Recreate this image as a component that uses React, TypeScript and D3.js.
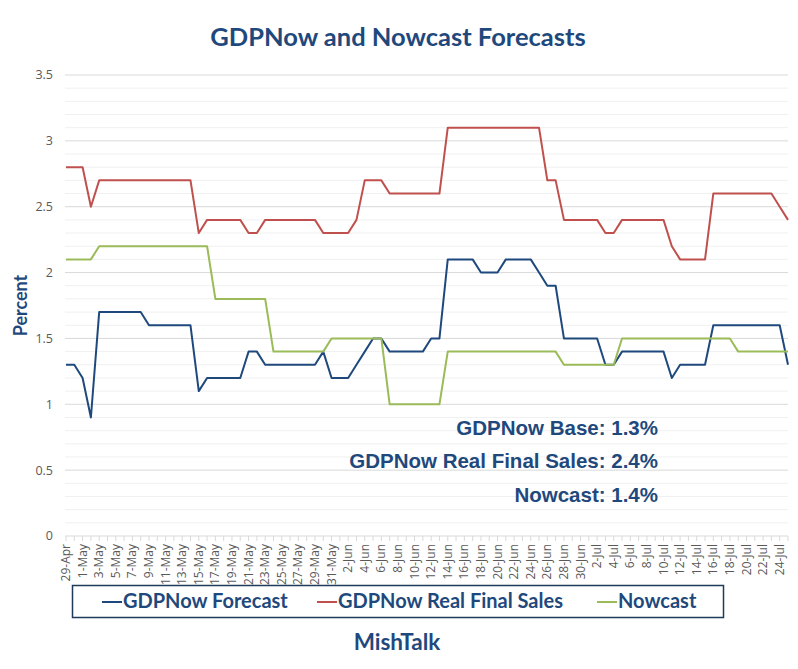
import { useEffect } from 'react';
import * as d3 from 'd3';

// daily observations, 29-Apr .. 25-Jul
const dates = d3.timeDay.range(new Date(2025, 3, 29), new Date(2025, 6, 26));

const gdpNowForecast = [
  1.3, 1.3, 1.2, 0.9, 1.7, 1.7, 1.7, 1.7, 1.7, 1.7,
  1.6, 1.6, 1.6, 1.6, 1.6, 1.6, 1.1, 1.2, 1.2, 1.2,
  1.2, 1.2, 1.4, 1.4, 1.3, 1.3, 1.3, 1.3, 1.3, 1.3,
  1.3, 1.4, 1.2, 1.2, 1.2, 1.3, 1.4, 1.5, 1.5, 1.4,
  1.4, 1.4, 1.4, 1.4, 1.5, 1.5, 2.1, 2.1, 2.1, 2.1,
  2.0, 2.0, 2.0, 2.1, 2.1, 2.1, 2.1, 2.0, 1.9, 1.9,
  1.5, 1.5, 1.5, 1.5, 1.5, 1.3, 1.3, 1.4, 1.4, 1.4,
  1.4, 1.4, 1.4, 1.2, 1.3, 1.3, 1.3, 1.3, 1.6, 1.6,
  1.6, 1.6, 1.6, 1.6, 1.6, 1.6, 1.6, 1.3,
];

const gdpNowRealFinalSales = [
  2.8, 2.8, 2.8, 2.5, 2.7, 2.7, 2.7, 2.7, 2.7, 2.7,
  2.7, 2.7, 2.7, 2.7, 2.7, 2.7, 2.3, 2.4, 2.4, 2.4,
  2.4, 2.4, 2.3, 2.3, 2.4, 2.4, 2.4, 2.4, 2.4, 2.4,
  2.4, 2.3, 2.3, 2.3, 2.3, 2.4, 2.7, 2.7, 2.7, 2.6,
  2.6, 2.6, 2.6, 2.6, 2.6, 2.6, 3.1, 3.1, 3.1, 3.1,
  3.1, 3.1, 3.1, 3.1, 3.1, 3.1, 3.1, 3.1, 2.7, 2.7,
  2.4, 2.4, 2.4, 2.4, 2.4, 2.3, 2.3, 2.4, 2.4, 2.4,
  2.4, 2.4, 2.4, 2.2, 2.1, 2.1, 2.1, 2.1, 2.6, 2.6,
  2.6, 2.6, 2.6, 2.6, 2.6, 2.6, 2.5, 2.4,
];

const nowcast = [
  2.1, 2.1, 2.1, 2.1, 2.2, 2.2, 2.2, 2.2, 2.2, 2.2,
  2.2, 2.2, 2.2, 2.2, 2.2, 2.2, 2.2, 2.2, 1.8, 1.8,
  1.8, 1.8, 1.8, 1.8, 1.8, 1.4, 1.4, 1.4, 1.4, 1.4,
  1.4, 1.4, 1.5, 1.5, 1.5, 1.5, 1.5, 1.5, 1.5, 1.0,
  1.0, 1.0, 1.0, 1.0, 1.0, 1.0, 1.4, 1.4, 1.4, 1.4,
  1.4, 1.4, 1.4, 1.4, 1.4, 1.4, 1.4, 1.4, 1.4, 1.4,
  1.3, 1.3, 1.3, 1.3, 1.3, 1.3, 1.3, 1.5, 1.5, 1.5,
  1.5, 1.5, 1.5, 1.5, 1.5, 1.5, 1.5, 1.5, 1.5, 1.5,
  1.5, 1.4, 1.4, 1.4, 1.4, 1.4, 1.4, 1.4,
];

const yTicks = [0, 0.5, 1, 1.5, 2, 2.5, 3, 3.5];

const seriesList = [
  { name: 'GDPNow Forecast', values: gdpNowForecast, color: '#1f497d' },
  { name: 'GDPNow Real Final Sales', values: gdpNowRealFinalSales, color: '#c0504d' },
  { name: 'Nowcast', values: nowcast, color: '#9bbb59' },
];

const annotations = [
  'GDPNow Base: 1.3%',
  'GDPNow Real Final Sales: 2.4%',
  'Nowcast: 1.4%',
];

const width = 798;
const height = 669;
const navy = '#1f497d';
const grey = '#595959';

export default function App() {
  useEffect(() => {
    document.body.style.margin = '0';
  }, []);

  const x = d3.scaleLinear().domain([0, dates.length - 1]).range([66, 788]);
  const y = d3.scaleLinear().domain([0, 3.5]).range([536, 75]);
  const fmt = d3.timeFormat('%-d-%b');

  const line = d3
    .line<number>()
    .x((_, i) => x(i))
    .y((d) => y(d));

  const minor = d3.range(0, 36).map((d) => d / 10).filter((d) => Math.round(d * 10) % 5 !== 0);

  const legendX = [102, 317, 597];

  return (
    <svg width={width} height={height} style={{ display: 'block', background: '#fff' }}>
      <text
        x={398}
        y={46}
        textAnchor="middle"
        fontFamily="Lato, sans-serif"
        fontWeight={700}
        fontSize={25.5}
        fill={navy}
      >
        GDPNow and Nowcast Forecasts
      </text>

      {/* gridlines */}
      {minor.map((d) => (
        <line key={'m' + d} x1={65} x2={788} y1={y(d)} y2={y(d)} stroke="#f0f0f0" strokeWidth={1} />
      ))}
      {yTicks.map((d) => (
        <line key={'g' + d} x1={65} x2={788} y1={y(d)} y2={y(d)} stroke="#d9d9d9" strokeWidth={1} />
      ))}

      {/* y axis labels */}
      {yTicks.map((d) => (
        <text
          key={'yt' + d}
          x={53}
          y={y(d)}
          dy="0.35em"
          textAnchor="end"
          fontFamily="'Open Sans', sans-serif"
          fontSize={12.5}
          fill={grey}
        >
          {d}
        </text>
      ))}
      <text
        transform={`translate(27,${y(1.75)}) rotate(-90)`}
        textAnchor="middle"
        fontFamily="Lato, sans-serif"
        fontWeight={700}
        fontSize={18}
        fill={navy}
      >
        Percent
      </text>

      {/* x axis */}
      {dates.map((_, i) => (
        <line key={'xt' + i} x1={x(i)} x2={x(i)} y1={y(0)} y2={y(0) + 5} stroke="#d9d9d9" />
      ))}
      {dates.map((d, i) =>
        i % 2 === 0 ? (
          <text
            key={'xl' + i}
            transform={`translate(${x(i) + 4},${y(0) + 8}) rotate(-90)`}
            textAnchor="end"
            fontFamily="'Open Sans', sans-serif"
            fontSize={12}
            fill={grey}
          >
            {fmt(d)}
          </text>
        ) : null
      )}

      {/* series */}
      {seriesList.map((s) => (
        <path
          key={s.name}
          d={line(s.values) || ''}
          fill="none"
          stroke={s.color}
          strokeWidth={2}
          strokeLinejoin="round"
        />
      ))}

      {/* annotations */}
      {annotations.map((t, i) => (
        <text
          key={t}
          x={658}
          y={435 + i * 33.3}
          textAnchor="end"
          fontFamily="'Liberation Sans', Arial, sans-serif"
          fontWeight={700}
          fontSize={20.5}
          fill={navy}
        >
          {t}
        </text>
      ))}

      {/* legend */}
      <rect x={72.5} y={585.5} width={651} height={32} fill="none" stroke="#1f3a5a" strokeWidth={1.5} />
      {seriesList.map((s, i) => (
        <g key={'lg' + s.name}>
          <line x1={legendX[i]} x2={legendX[i] + 20} y1={602} y2={602} stroke={s.color} strokeWidth={2} />
          <text
            x={legendX[i] + 21}
            y={608}
            fontFamily="Lato, sans-serif"
            fontWeight={700}
            fontSize={20}
            fill={navy}
          >
            {s.name}
          </text>
        </g>
      ))}

      <text
        x={397}
        y={650}
        textAnchor="middle"
        fontFamily="Lato, sans-serif"
        fontWeight={700}
        fontSize={22.5}
        fill={navy}
      >
        MishTalk
      </text>
    </svg>
  );
}
